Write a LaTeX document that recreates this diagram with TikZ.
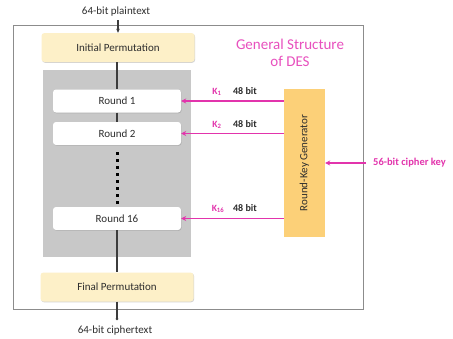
\documentclass[tikz,border=0pt]{standalone}
\usepackage{fontspec}
\setmainfont{Carlito}
\usetikzlibrary{arrows.meta,shadows}
\definecolor{pinkk}{RGB}{226,52,172}
\definecolor{titlepink}{RGB}{232,80,190}
\definecolor{permfill}{RGB}{253,240,200}
\definecolor{genfill}{RGB}{252,208,120}
\definecolor{grayfill}{RGB}{200,200,200}
\definecolor{linegray}{RGB}{60,60,60}
\definecolor{txt}{RGB}{45,45,45}
\tikzset{
  permbox/.style={draw=none, fill=permfill, rounded corners=3pt, minimum width=153pt, minimum height=29pt, font=\fontsize{11}{12}\selectfont, text=txt, drop shadow={shadow xshift=0.6pt, shadow yshift=-0.8pt, opacity=0.35}},
  roundbox/.style={draw=none, fill=white, rounded corners=3pt, minimum width=128pt, minimum height=23pt, font=\fontsize{11}{12}\selectfont, text=txt, drop shadow={shadow xshift=0.6pt, shadow yshift=-0.8pt, opacity=0.35}},
  lbl/.style={font=\fontsize{11}{12}\selectfont, text=txt, inner sep=0pt},
  bitlbl/.style={font=\bfseries\fontsize{10}{11}\selectfont, text=txt, inner sep=0pt},
  keylbl/.style={font=\bfseries\fontsize{9.5}{11}\selectfont, text=pinkk, inner sep=0pt},
  flow/.style={draw=linegray, line width=1.2pt},
  keyarrow/.style={draw=pinkk, line width=1.4pt, -{Stealth[length=5pt,width=5pt]}},
}
\begin{document}
\begin{tikzpicture}[x=1pt,y=-1pt]
\useasboundingbox (0,0) rectangle (453,338);
% outer frame
\node[draw=black!45, line width=0.8pt, fill=white, minimum width=350pt, minimum height=284pt, inner sep=0pt] (frame) at (188,167) {};
% gray rounds area
\node[fill=grayfill, minimum width=148pt, minimum height=187pt, inner sep=0pt] (grayarea) at (117,163.5) {};
% title
\node[font=\fontsize{15}{17}\selectfont, text=titlepink, align=center] (title) at (290,53) {General Structure\\of DES};
% inputs/outputs
\node[lbl] (pt) at (116,12) {64-bit plaintext};
\node[lbl] (ct) at (115,331) {64-bit ciphertext};
% boxes
\node[permbox] (ip) at (118,47.5) {Initial Permutation};
\node[roundbox] (r1) at (117,101) {Round 1};
\node[roundbox] (r2) at (117,133.5) {Round 2};
\node[roundbox] (r16) at (117,218.5) {Round 16};
\node[permbox] (fp) at (117,287) {Final Permutation};
\coordinate (dotA) at (117,152);
\coordinate (dotB) at (117,205);
% generator
\node[fill=genfill, minimum width=41pt, minimum height=148pt, inner sep=0pt] (gen) at (304.5,163) {};
\node[rotate=90, font=\fontsize{11}{12}\selectfont, text=txt] (gentext) at (gen.center) {Round-Key Generator};
% flows
\coordinate (ptend) at (ip.north |- 0,20);
\draw[flow, -{Stealth[length=4pt,width=3.5pt]}] (ptend) -- (ip.north);
\draw[flow] (ip.south -| r1.north) -- (r1.north);
\draw[flow] (r1.south) -- (r2.north);
\draw[draw=black, line width=3pt, dash pattern=on 3pt off 4pt] (dotA) -- (dotB);
\draw[flow] (r16.south) -- (fp.north -| r16.south);
\coordinate (ctend) at (fp.south |- 0,320);
\draw[flow, -{Circle[length=2.5pt]}] (fp.south) -- (ctend);
% key arrows
\draw[keyarrow] (gen.west |- r1.east) -- (r1.east);
\draw[keyarrow] (gen.west |- r2.east) -- (r2.east);
\draw[keyarrow] (gen.west |- r16.east) -- (r16.east);
\node[keylbl] (k1) at (217,92) {K\textsubscript{1}};
\node[keylbl] (k2) at (217,125) {K\textsubscript{2}};
\node[keylbl] (k16) at (218,209) {K\textsubscript{16}};
\node[bitlbl] (b1) at (245,91) {48 bit};
\node[bitlbl] (b2) at (245,124) {48 bit};
\node[bitlbl] (b16) at (245,208) {48 bit};
% cipher key
\node[font=\bfseries\fontsize{10.5}{12}\selectfont, text=pinkk, anchor=west, inner sep=0pt] (ck) at (373,163) {56-bit cipher key};
\coordinate (ckstart) at (366,163);
\draw[keyarrow] (ckstart) -- (gen.east |- ckstart);
\end{tikzpicture}
\end{document}
